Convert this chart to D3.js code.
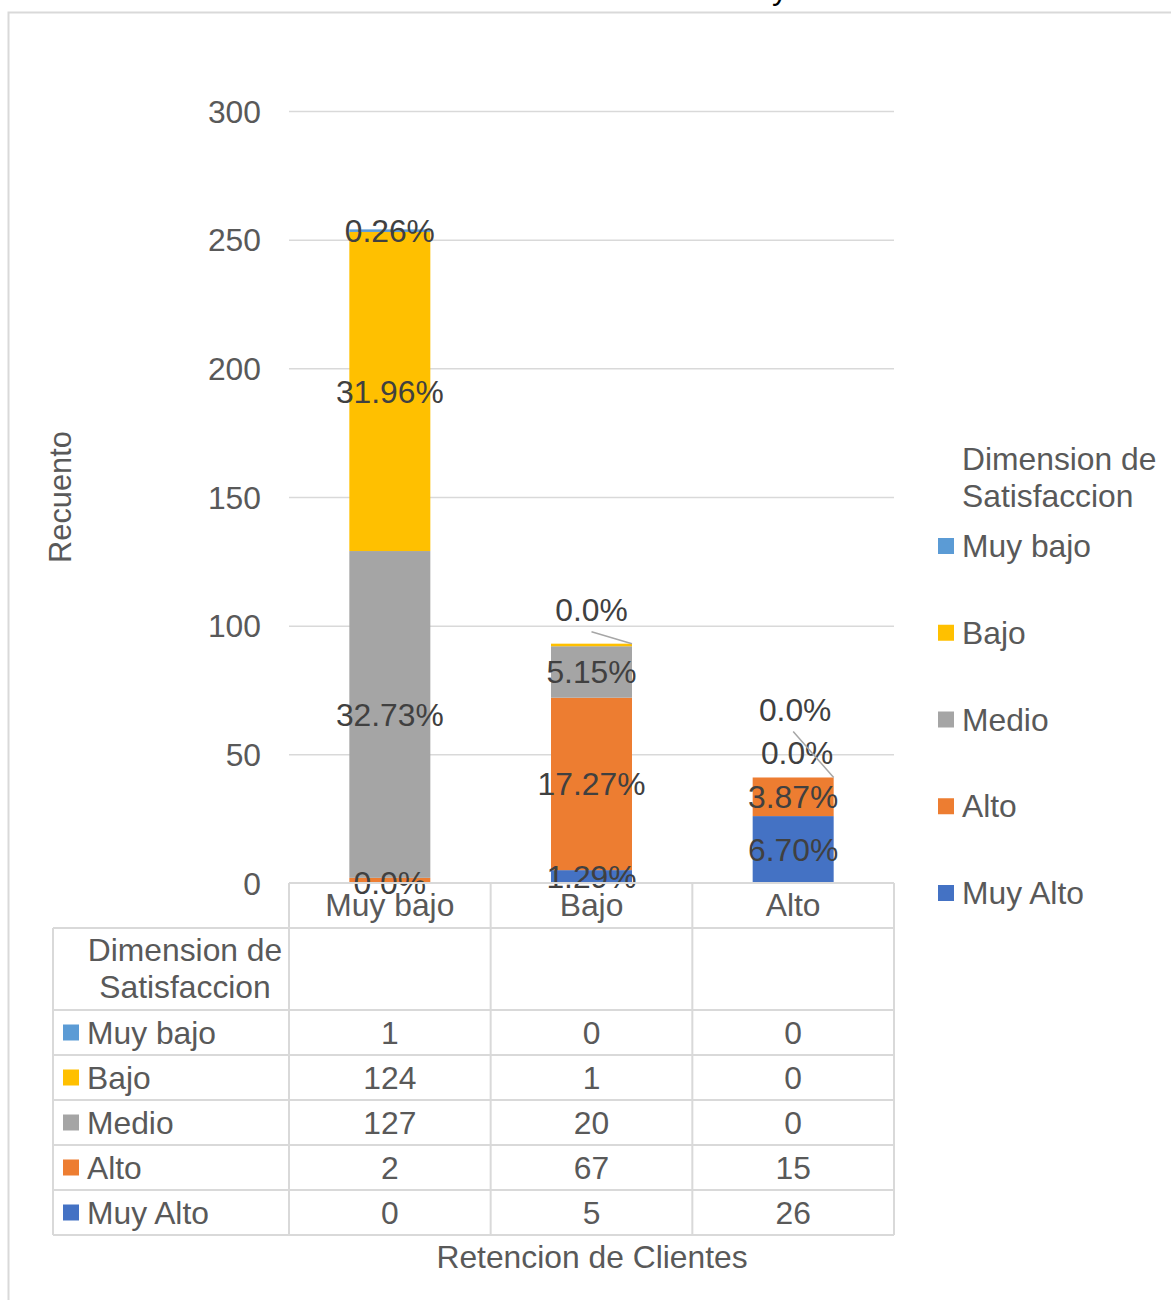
<!DOCTYPE html>
<html>
<head>
<meta charset="utf-8">
<script src="https://cdn.jsdelivr.net/npm/d3@7"></script>
<style>
  html, body { margin: 0; padding: 0; background: #fff; }
  svg text { font-family: "Liberation Sans", Arial, sans-serif; }
</style>
</head>
<body>
<svg id="chart" width="1171" height="1300"></svg>
<script>
// Categories on the x axis (Retencion de Clientes)
const categories = ["Muy bajo", "Bajo", "Alto"];
// Series (Dimension de Satisfaccion), listed top of stack first
const seriesNames = ["Muy bajo", "Bajo", "Medio", "Alto", "Muy Alto"];
// Counts per category for each series
const muyBajoValues = [1, 0, 0];
const bajoValues = [124, 1, 0];
const medioValues = [127, 20, 0];
const altoValues = [2, 67, 15];
const muyAltoValues = [0, 5, 26];
// Percentage labels shown on the segments (null = not shown)
const muyBajoLabels = ["0.26%", "0.0%", "0.0%"];
const bajoLabels = ["31.96%", null, "0.0%"];
const medioLabels = ["32.73%", "5.15%", null];
const altoLabels = [null, "17.27%", "3.87%"];
const muyAltoLabels = ["0.0%", "1.29%", "6.70%"];
const yTicks = [0, 50, 100, 150, 200, 250, 300];

const colors = {
  "Muy bajo": "#5b9bd5",
  "Bajo": "#ffc000",
  "Medio": "#a5a5a5",
  "Alto": "#ed7d31",
  "Muy Alto": "#4472c4"
};

const valuesBySeries = {
  "Muy bajo": muyBajoValues, "Bajo": bajoValues, "Medio": medioValues,
  "Alto": altoValues, "Muy Alto": muyAltoValues
};
const labelsBySeries = {
  "Muy bajo": muyBajoLabels, "Bajo": bajoLabels, "Medio": medioLabels,
  "Alto": altoLabels, "Muy Alto": muyAltoLabels
};

const svg = d3.select("#chart");
const FONT = 31.8;
const gridColor = "#d9d9d9";
const textColor = "#595959";
const labelColor = "#404040";

// Outer chart frame
svg.append("path")
  .attr("d", "M8.5,1300 V12.5 H1171")
  .attr("fill", "none").attr("stroke", gridColor).attr("stroke-width", 2);

// Title, mostly above the visible area
svg.append("text").attr("x", 780).attr("y", -1)
  .attr("text-anchor", "middle").attr("font-size", FONT).attr("fill", "#000").text("y");

const plot = { left: 289, right: 894, top: 111, bottom: 883 };

const x = d3.scaleBand().domain(categories).range([plot.left, plot.right]).paddingInner(0).paddingOuter(0);
const y = d3.scaleLinear().domain([0, 300]).range([plot.bottom, plot.top]);
const barWidth = 81;

// Gridlines
svg.append("g").selectAll("line").data(yTicks.filter(t => t > 0)).join("line")
  .attr("x1", plot.left).attr("x2", plot.right)
  .attr("y1", d => y(d) + 0.5).attr("y2", d => y(d) + 0.5)
  .attr("stroke", gridColor).attr("stroke-width", 1.5);

// Y axis tick labels
const yAxis = d3.axisLeft(y).tickValues(yTicks).tickSize(0).tickPadding(0);
const yg = svg.append("g").attr("transform", `translate(261,0)`).call(yAxis);
yg.select(".domain").remove();
yg.selectAll("text").attr("font-size", FONT).attr("fill", textColor)
  .attr("font-family", "Liberation Sans, Arial, sans-serif").attr("dy", "0.35em");

// Y axis title
svg.append("text")
  .attr("transform", "translate(71,497) rotate(-90)")
  .attr("text-anchor", "middle").attr("font-size", FONT - 1).attr("fill", textColor)
  .text("Recuento");

// Stack from bottom: Muy Alto, Alto, Medio, Bajo, Muy bajo
const stackOrder = seriesNames.slice().reverse();
const rows = categories.map((c, i) => {
  const r = { category: c };
  seriesNames.forEach(s => { r[s] = valuesBySeries[s][i]; });
  return r;
});
const stacked = d3.stack().keys(stackOrder)(rows);

const barsG = svg.append("g");
stacked.forEach(layer => {
  barsG.selectAll(null).data(layer).join("rect")
    .attr("x", d => x(d.data.category) + (x.bandwidth() - barWidth) / 2)
    .attr("width", barWidth)
    .attr("y", d => y(d[1]))
    .attr("height", d => Math.max(0, y(d[0]) - y(d[1])))
    .attr("fill", colors[layer.key]);
});

// Segment data labels; zero-height segments at the top are lifted and given a leader line
const lifted = {
  "Bajo|Muy bajo": { dy: -34, dx: 0, leader: true },
  "Alto|Muy bajo": { dy: -68, dx: 2, leader: true },
  "Alto|Bajo": { dy: -25, dx: 4, leader: false }
};
const labelsG = svg.append("g");
stacked.forEach(layer => {
  layer.forEach((d, i) => {
    const txt = labelsBySeries[layer.key][i];
    if (!txt) return;
    const cx = x(d.data.category) + x.bandwidth() / 2;
    let cy = (y(d[0]) + y(d[1])) / 2;
    const key = d.data.category + "|" + layer.key;
    let lx = cx;
    if (lifted[key]) {
      const o = lifted[key];
      cy = y(d[1]) + o.dy;
      lx = cx + o.dx;
      if (o.leader) {
        labelsG.append("line")
          .attr("x1", cx).attr("y1", cy + 22)
          .attr("x2", x(d.data.category) + (x.bandwidth() + barWidth) / 2)
          .attr("y2", y(d[1]))
          .attr("stroke", "#a6a6a6").attr("stroke-width", 1.5);
      }
    }
    labelsG.append("text")
      .attr("x", lx).attr("y", cy).attr("dy", "0.35em")
      .attr("text-anchor", "middle").attr("font-size", FONT).attr("fill", labelColor)
      .text(txt);
  });
});

// Data table under the plot
const tableLeft = 53;
const headerTop = 928, headerBottom = 1010;
const rowH = 45;
const tableBottom = headerBottom + rowH * seriesNames.length;
const tg = svg.append("g");
const line = (x1, y1, x2, y2) => tg.append("line")
  .attr("x1", x1).attr("y1", y1).attr("x2", x2).attr("y2", y2)
  .attr("stroke", gridColor).attr("stroke-width", 2);

// Axis line and column separators
line(plot.left, plot.bottom, plot.right, plot.bottom);
[plot.left, ...categories.map(c => x(c) + x.bandwidth())].forEach(xx => line(xx, plot.bottom, xx, tableBottom));
line(tableLeft, headerTop, plot.right, headerTop);
line(tableLeft, headerTop, tableLeft, tableBottom);
for (let k = 0; k <= seriesNames.length; k++) {
  const yy = headerBottom + k * rowH;
  line(tableLeft, yy, plot.right, yy);
}

// Category labels in the axis row
svg.append("g").selectAll("text").data(categories).join("text")
  .attr("x", d => x(d) + x.bandwidth() / 2).attr("y", 905).attr("dy", "0.35em")
  .attr("text-anchor", "middle").attr("font-size", FONT).attr("fill", textColor)
  .text(d => d);

// Header cell
const hdr = svg.append("text").attr("text-anchor", "middle").attr("font-size", FONT).attr("fill", textColor);
hdr.append("tspan").attr("x", 185).attr("y", 950).attr("dy", "0.35em").text("Dimension de");
hdr.append("tspan").attr("x", 185).attr("y", 987).attr("dy", "0.35em").text("Satisfaccion");

// Table rows: legend key, name, values
seriesNames.forEach((s, k) => {
  const cy = headerBottom + k * rowH + rowH / 2;
  svg.append("rect").attr("x", 63).attr("y", cy - 8).attr("width", 16).attr("height", 16).attr("fill", colors[s]);
  svg.append("text").attr("x", 87).attr("y", cy).attr("dy", "0.35em")
    .attr("font-size", FONT).attr("fill", textColor).text(s);
  categories.forEach((c, i) => {
    svg.append("text").attr("x", x(c) + x.bandwidth() / 2).attr("y", cy).attr("dy", "0.35em")
      .attr("text-anchor", "middle").attr("font-size", FONT).attr("fill", textColor)
      .text(valuesBySeries[s][i]);
  });
});

// X axis title
svg.append("text").attr("x", 592).attr("y", 1257).attr("dy", "0.35em")
  .attr("text-anchor", "middle").attr("font-size", FONT).attr("fill", textColor)
  .text("Retencion de Clientes");

// Legend
const lg = svg.append("g");
lg.append("text").attr("x", 962).attr("y", 459).attr("dy", "0.35em")
  .attr("font-size", FONT).attr("fill", textColor).text("Dimension de");
lg.append("text").attr("x", 962).attr("y", 496).attr("dy", "0.35em")
  .attr("font-size", FONT).attr("fill", textColor).text("Satisfaccion");
const legendY = d3.scalePoint().domain(seriesNames).range([546, 893]);
seriesNames.forEach(s => {
  lg.append("rect").attr("x", 938).attr("y", legendY(s) - 8).attr("width", 16).attr("height", 16).attr("fill", colors[s]);
  lg.append("text").attr("x", 962).attr("y", legendY(s)).attr("dy", "0.35em")
    .attr("font-size", FONT).attr("fill", textColor).text(s);
});
</script>
</body>
</html>
